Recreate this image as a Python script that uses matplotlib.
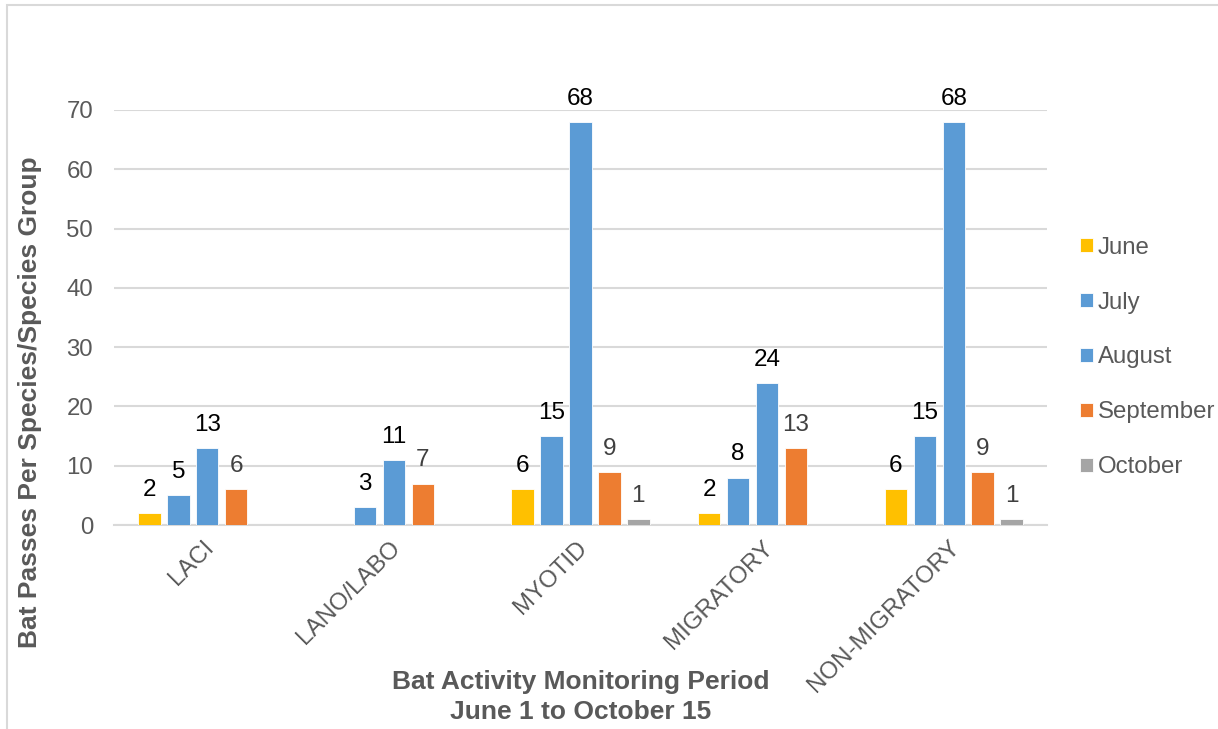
import matplotlib
matplotlib.use("Agg")
import matplotlib.pyplot as plt
import matplotlib.transforms as mtransforms
from matplotlib.patches import Rectangle
import numpy as np

plt.rcParams['font.family'] = ['Liberation Sans', 'DejaVu Sans']

# chart data
categories = ['LACI', 'LANO/LABO', 'MYOTID', 'MIGRATORY', 'NON-MIGRATORY']
months = ['June', 'July', 'August', 'September', 'October']
june = [2, 0, 6, 2, 6]
july = [5, 3, 15, 8, 15]
august = [13, 11, 68, 24, 68]
september = [6, 7, 9, 13, 9]
october = [0, 0, 1, 0, 1]

series = [june, july, august, september, october]
colors = ['#FFC000', '#5B9BD5', '#5B9BD5', '#ED7D31', '#A5A5A5']
label_colors = ['#000000', '#000000', '#000000', '#404040', '#404040']

fig = plt.figure(figsize=(12.18, 7.29), dpi=100)
ax = fig.add_axes([114 / 1218, 1 - 525 / 729, 933 / 1218, 415 / 729])

x = np.arange(len(categories))
step = 0.155
width = 0.12

for i, (vals, name) in enumerate(zip(series, months)):
    pos = x + (i - 2) * step
    bars = ax.bar(pos, vals, width, color=colors[i], label=name,
                  edgecolor='white', linewidth=0.6, zorder=3)
    # only label non-zero bars
    for rect, v in zip(bars, vals):
        if v == 0:
            continue
        ax.annotate(str(v), (rect.get_x() + rect.get_width() / 2, v),
                    xytext=(0, 12.3), textcoords='offset points',
                    ha='center', va='baseline', fontsize=17.5,
                    color=label_colors[i], annotation_clip=False)

ax.set_xlim(-0.5, len(categories) - 0.5)
ax.set_ylim(0, 70)
ax.set_yticks(range(0, 71, 10))
ax.yaxis.grid(True, color='#D9D9D9', linewidth=1.5, zorder=0)
ax.set_axisbelow(True)
for s in ['top', 'right', 'left']:
    ax.spines[s].set_visible(False)
ax.spines['bottom'].set_color('#D9D9D9')
ax.spines['bottom'].set_linewidth(1.5)
ax.tick_params(axis='both', length=0, labelsize=17.3, labelcolor='#595959')
ax.tick_params(axis='y', pad=15)

ax.set_xticks(x)
ax.set_xticklabels(categories, rotation=45, ha='right', va='center',
                   rotation_mode='anchor')
ax.tick_params(axis='x', pad=14)
shift = mtransforms.ScaledTranslation(3 / 100, 0, fig.dpi_scale_trans)
for lbl in ax.get_xticklabels():
    lbl.set_transform(lbl.get_transform() + shift)

fig.text(30 / 1218, 1 - 402 / 729, 'Bat Passes Per Species/Species Group',
         rotation=90, ha='center', va='center', fontsize=19,
         fontweight='bold', color='#595959')
fig.text(581 / 1218, 1 - 697 / 729,
         'Bat Activity Monitoring Period\nJune 1 to October 15',
         ha='center', va='center', fontsize=19, fontweight='bold',
         color='#595959', linespacing=1.3)

fig.legend(loc='center left', bbox_to_anchor=(1080 / 1218, 1 - 357.5 / 729),
           frameon=False, fontsize=17.3, labelcolor='#595959',
           handlelength=0.55, handleheight=0.55, handletextpad=0.2,
           labelspacing=1.37, borderpad=0, borderaxespad=0)

# chart area border
fig.patches.append(Rectangle((7 / 1218, -0.1), 1.2, 1.1 - 5 / 729,
                             transform=fig.transFigure, fill=False,
                             edgecolor='#D9D9D9', linewidth=1.5))

fig.savefig('out.png', dpi=100)
